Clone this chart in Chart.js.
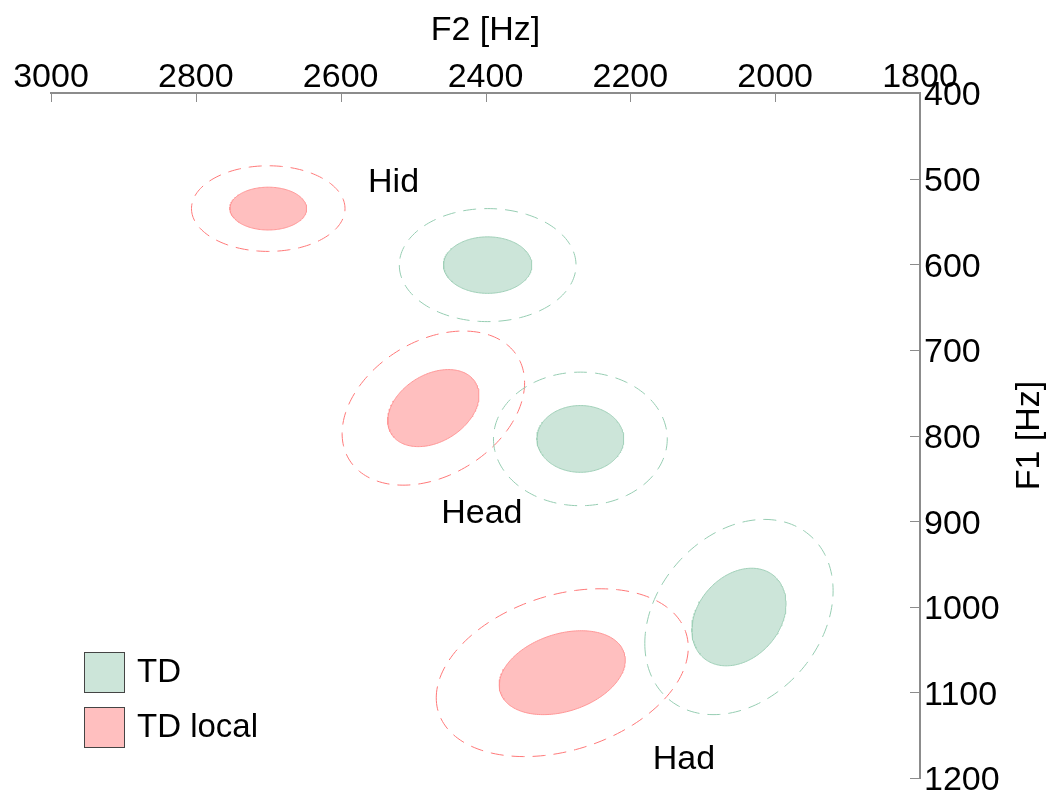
<!DOCTYPE html>
<html>
<head>
<meta charset="utf-8">
<script src="https://cdn.jsdelivr.net/npm/chart.js@4.4.0/dist/chart.umd.min.js"></script>
<style>
  html, body { margin: 0; padding: 0; background: #fff; }
  #wrap { width: 1051px; height: 792px; }
</style>
</head>
<body>
<div id="wrap"><canvas id="chart"></canvas></div>
<script>
const groups = ['TD', 'TD local'];
const vowels = ['Hid', 'Head', 'Had'];

// mean F2 / F1 and SD per vowel (Hz); inner ellipse = 1 SD, dashed = 2 SD
const tdF2 = [2397, 2269, 2050];
const tdF1 = [601, 804, 1012];
const tdSdF2 = [61, 60, 65];
const tdSdF1 = [33, 39, 57];
const tdRho = [0, 0, 0.27];

const localF2 = [2700, 2472, 2294];
const localF1 = [535, 768, 1077];
const localSdF2 = [53, 63, 87];
const localSdF1 = [25, 45, 49];
const localRho = [0, 0.33, 0.3];

// where the vowel names sit
const labelF2 = [2527, 2405, 2126];
const labelF1 = [505, 891, 1179];

const xTicks = [3000, 2800, 2600, 2400, 2200, 2000, 1800];
const yTicks = [400, 500, 600, 700, 800, 900, 1000, 1100, 1200];

const fillColors = ['rgb(204, 229, 217)', 'rgb(255, 191, 191)'];
const edgeColors = ['rgb(160, 208, 184)', 'rgb(255, 150, 150)'];
const dashColors = ['rgb(150, 205, 178)', 'rgb(255, 120, 120)'];

const FONT = 'Liberation Sans, Arial, sans-serif';

function ellipse(cx, cy, sx, sy, rho, k) {
    const pts = [];
    const n = 180;
    const q = Math.sqrt(1 - rho * rho);
    for (let i = 0; i <= n; i++) {
        const t = 2 * Math.PI * i / n;
        pts.push({
            x: cx + k * sx * Math.cos(t),
            y: cy + k * sy * (rho * Math.cos(t) + q * Math.sin(t))
        });
    }
    return pts;
}

const series = [
    { f2: tdF2, f1: tdF1, sx: tdSdF2, sy: tdSdF1, rho: tdRho },
    { f2: localF2, f1: localF1, sx: localSdF2, sy: localSdF1, rho: localRho }
];

const datasets = [];
series.forEach((s, g) => {
    vowels.forEach((v, i) => {
        datasets.push({
            label: groups[g] + ' ' + v + ' 2SD',
            data: ellipse(s.f2[i], s.f1[i], s.sx[i], s.sy[i], s.rho[i], 2),
            borderColor: dashColors[g],
            borderWidth: 1,
            borderDash: [13, 8],
            fill: false,
            pointRadius: 0,
            tension: 0
        });
    });
});
series.forEach((s, g) => {
    vowels.forEach((v, i) => {
        datasets.push({
            label: groups[g] + ' ' + v,
            data: ellipse(s.f2[i], s.f1[i], s.sx[i], s.sy[i], s.rho[i], 1),
            borderColor: edgeColors[g],
            backgroundColor: fillColors[g],
            borderWidth: 1,
            fill: 'shape',
            pointRadius: 0,
            tension: 0
        });
    });
});

const extras = {
    id: 'extras',
    afterDraw(chart) {
        const ctx = chart.ctx;
        const x = chart.scales.x;
        const y = chart.scales.y;
        const area = chart.chartArea;
        ctx.save();

        // inward tick marks
        ctx.strokeStyle = '#8c8c8c';
        ctx.lineWidth = 1;
        xTicks.forEach(v => {
            const px = Math.round(x.getPixelForValue(v)) + 0.5;
            ctx.beginPath();
            ctx.moveTo(px, area.top);
            ctx.lineTo(px, area.top + 9);
            ctx.stroke();
        });
        yTicks.forEach(v => {
            const py = Math.round(y.getPixelForValue(v)) + 0.5;
            ctx.beginPath();
            ctx.moveTo(area.right - 10, py);
            ctx.lineTo(area.right, py);
            ctx.stroke();
        });

        // vowel names
        ctx.fillStyle = '#000';
        ctx.font = '34px ' + FONT;
        ctx.textAlign = 'center';
        ctx.textBaseline = 'middle';
        vowels.forEach((v, i) => {
            ctx.fillText(v, x.getPixelForValue(labelF2[i]), y.getPixelForValue(labelF1[i]));
        });

        // y title, reading upwards
        ctx.save();
        ctx.translate(area.right + 110, (area.top + area.bottom) / 2);
        ctx.rotate(-Math.PI / 2);
        ctx.fillText('F1 [Hz]', 0, 0);
        ctx.restore();

        // legend
        ctx.font = '33px ' + FONT;
        ctx.textAlign = 'left';
        groups.forEach((g, i) => {
            const top = area.bottom - 126 + i * 55;
            const left = area.left + 33;
            ctx.fillStyle = fillColors[i];
            ctx.fillRect(left, top, 40, 40);
            ctx.strokeStyle = '#444';
            ctx.lineWidth = 1;
            ctx.strokeRect(left + 0.5, top + 0.5, 40, 40);
            ctx.fillStyle = '#000';
            ctx.fillText(g, left + 53, top + 21);
        });
        ctx.restore();
    }
};

new Chart(document.getElementById('chart'), {
    type: 'line',
    data: { datasets: datasets },
    options: {
        responsive: true,
        maintainAspectRatio: false,
        animation: false,
        events: [],
        layout: { padding: { left: 51, right: 0, top: 0, bottom: 14 } },
        plugins: {
            legend: { display: false },
            tooltip: { enabled: false }
        },
        scales: {
            x: {
                type: 'linear',
                position: 'top',
                reverse: true,
                min: 1800,
                max: 3000,
                afterBuildTicks: s => { s.ticks = xTicks.map(v => ({ value: v })); },
                afterFit: s => { s.height = 93; s.paddingLeft = 0; s.paddingRight = 0; },
                grid: { display: false, drawTicks: false },
                border: { display: true, color: '#8c8c8c', width: 2 },
                ticks: {
                    color: '#000',
                    padding: -5,
                    maxRotation: 0,
                    autoSkip: false,
                    callback: v => String(v),
                    font: { family: FONT, size: 34 }
                },
                title: {
                    display: true,
                    text: 'F2 [Hz]',
                    color: '#000',
                    padding: { top: 10, bottom: 0 },
                    font: { family: FONT, size: 34 }
                }
            },
            y: {
                type: 'linear',
                position: 'right',
                reverse: true,
                min: 400,
                max: 1200,
                afterBuildTicks: s => { s.ticks = yTicks.map(v => ({ value: v })); },
                afterFit: s => { s.width = 131; s.paddingTop = 0; s.paddingBottom = 0; },
                grid: { display: false, drawTicks: false },
                border: { display: true, color: '#8c8c8c', width: 2 },
                ticks: {
                    color: '#000',
                    padding: 4,
                    labelOffset: 3,
                    autoSkip: false,
                    callback: v => String(v),
                    font: { family: FONT, size: 34 }
                }
            }
        }
    },
    plugins: [extras]
});
</script>
</body>
</html>
